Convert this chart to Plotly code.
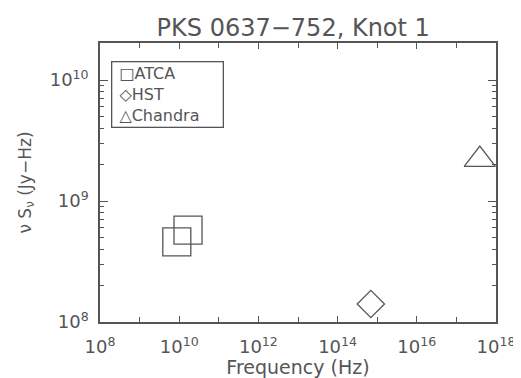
import plotly.graph_objects as go

# Data
atca_freq = [8.7e9, 1.67e10]
atca_flux = [4.6e8, 5.75e8]
hst_freq = [6.9e14]
hst_flux = [1.41e8]
chandra_freq = [3.9e17]
chandra_flux = [2.2e9]

series_names = ["ATCA", "HST", "Chandra"]
legend_glyphs = ["□", "◇", "△"]

x_tickvals = [1e8, 1e10, 1e12, 1e14, 1e16, 1e18]
x_ticktext = ["10<sup>8</sup>", "10<sup>10</sup>", "10<sup>12</sup>", "10<sup>14</sup>", "10<sup>16</sup>", "10<sup>18</sup>"]
y_tickvals = [1e8, 1e9, 1e10]
y_ticktext = ["10<sup>8</sup>", "10<sup>9</sup>", "10<sup>10</sup>"]

gray = "#555555"
font = "DejaVu Sans"

fig = go.Figure()
fig.add_trace(go.Scatter(x=atca_freq, y=atca_flux, mode="markers", name=series_names[0],
                         marker=dict(symbol="square-open", size=28, color=gray, line=dict(width=1.3, color=gray))))
fig.add_trace(go.Scatter(x=hst_freq, y=hst_flux, mode="markers", name=series_names[1],
                         marker=dict(symbol="diamond-open", size=21, color=gray, line=dict(width=1.3, color=gray))))
fig.add_trace(go.Scatter(x=chandra_freq, y=chandra_flux, mode="markers", name=series_names[2],
                         marker=dict(symbol="triangle-up-open", size=27, color=gray, line=dict(width=1.3, color=gray))))

axis_common = dict(
    showgrid=False, zeroline=False, showline=True, linecolor=gray, linewidth=1.5,
    mirror="allticks", ticks="inside", tickcolor=gray, tickwidth=1.2, automargin=False,
    tickfont=dict(family=font, size=18, color=gray),
)

fig.update_xaxes(type="log", range=[8, 18], tickmode="array", tickvals=x_tickvals, ticktext=x_ticktext,
                 ticklen=6, ticklabelstandoff=8,
                 minor=dict(ticks="inside", dtick=1, ticklen=5, tickcolor=gray, tickwidth=1.2),
                 title=dict(text="Frequency (Hz)", font=dict(family=font, size=19, color=gray), standoff=18),
                 **axis_common)
fig.update_yaxes(type="log", range=[8, 10.306], tickmode="array", tickvals=y_tickvals, ticktext=y_ticktext,
                 ticklen=8, ticklabelstandoff=6,
                 minor=dict(ticks="inside", dtick="D1", ticklen=4, tickcolor=gray, tickwidth=1.2),
                 title=dict(text="ν S<sub>ν</sub> (Jy−Hz)", font=dict(family=font, size=17, color=gray), standoff=14),
                 **axis_common)

legend_text = "<br>".join("\u00a0" + g + n for g, n in zip(legend_glyphs, series_names))

# page has an 8px body margin, so the figure is drawn 8px right and down
fig.update_layout(
    width=513, height=370,
    margin=dict(l=92, r=25, t=35, b=56),
    paper_bgcolor="white", plot_bgcolor="white",
    title=dict(text="PKS 0637−752, Knot 1", x=0.556, xanchor="center", y=0.946, yanchor="middle",
               font=dict(family=font, size=24, color=gray)),
    showlegend=False,
    annotations=[dict(text=legend_text, xref="paper", yref="paper", x=0.028, y=0.935,
                      xanchor="left", yanchor="top", align="left", showarrow=False,
                      width=106, borderpad=2, bordercolor=gray, borderwidth=1.3, bgcolor="white",
                      font=dict(family=font, size=16, color=gray))],
)

fig.write_html("out.html")
